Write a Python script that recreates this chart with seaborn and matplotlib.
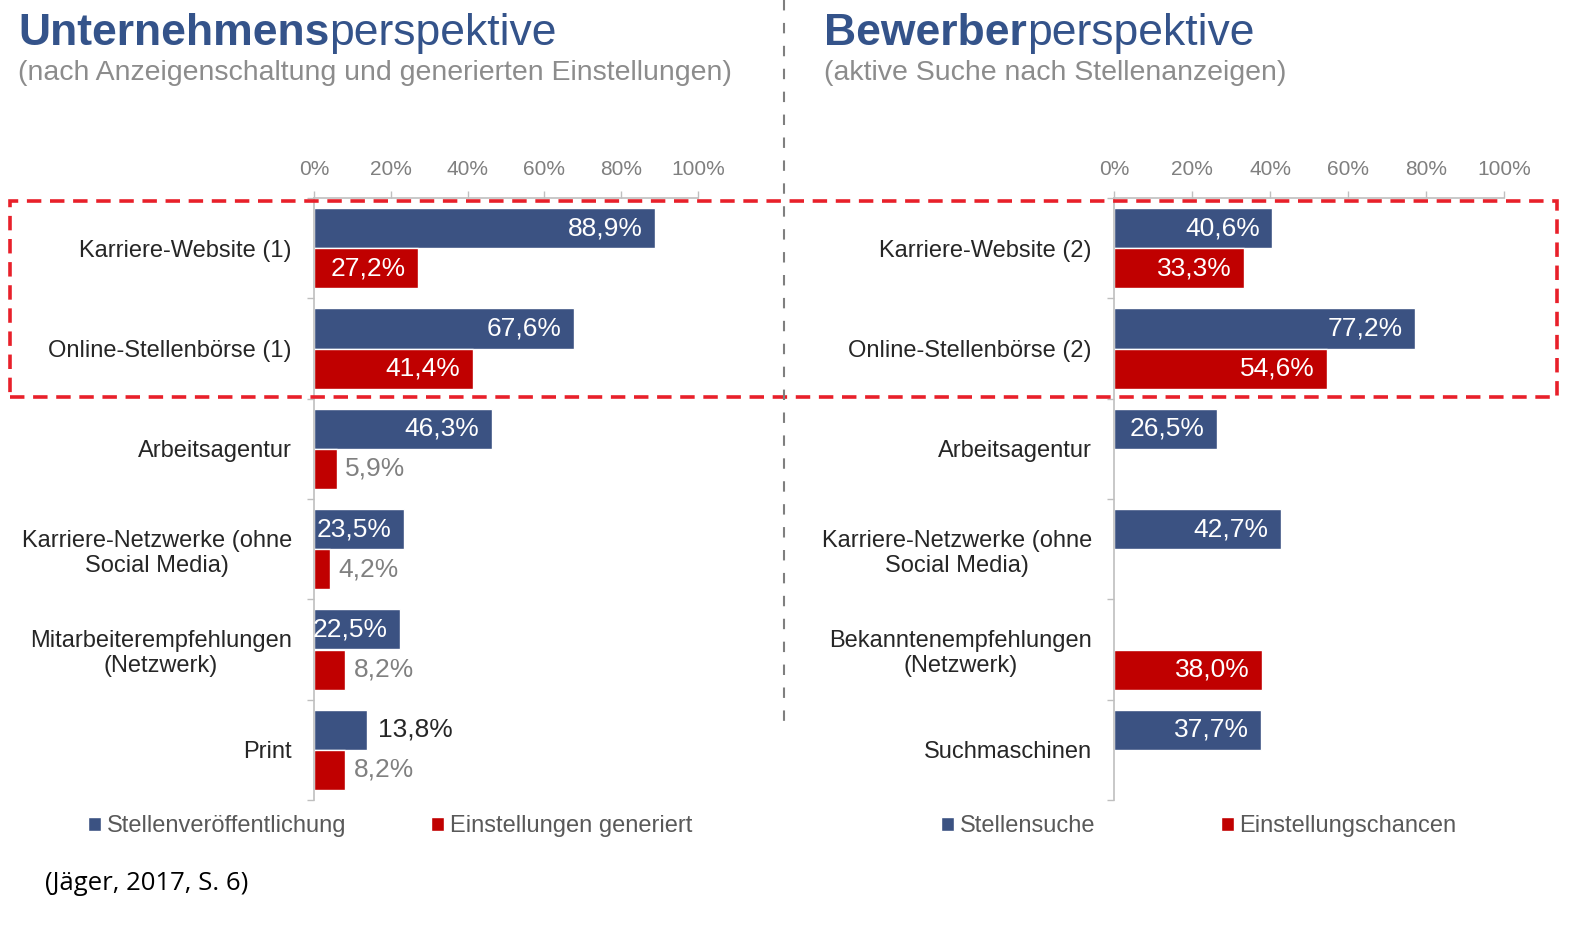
import matplotlib.pyplot as plt
import matplotlib.patches as mpatches
from matplotlib.lines import Line2D
import seaborn as sns
import pandas as pd
import numpy as np

# data
left_categories = ["Karriere-Website (1)", "Online-Stellenbörse (1)", "Arbeitsagentur",
                   "Karriere-Netzwerke (ohne\nSocial Media)", "Mitarbeiterempfehlungen\n(Netzwerk)", "Print"]
left_series = ["Stellenveröffentlichung", "Einstellungen generiert"]
left_published = [88.9, 67.6, 46.3, 23.5, 22.5, 13.8]
left_hires = [27.2, 41.4, 5.9, 4.2, 8.2, 8.2]

right_categories = ["Karriere-Website (2)", "Online-Stellenbörse (2)", "Arbeitsagentur",
                    "Karriere-Netzwerke (ohne\nSocial Media)", "Bekanntenempfehlungen\n(Netzwerk)", "Suchmaschinen"]
right_series = ["Stellensuche", "Einstellungschancen"]
right_search = [40.6, 77.2, 26.5, 42.7, np.nan, 37.7]
right_chances = [33.3, 54.6, np.nan, np.nan, 38.0, np.nan]

x_ticks = [0, 20, 40, 60, 80, 100]

BLUE = "#3b5282"
RED = "#c00000"
TITLE = "#34538a"
GRID = "#bfbfbf"

sns.set_theme(style="white")
plt.rcParams['font.family'] = ['Liberation Sans', 'DejaVu Sans']

W, H = 1592, 926
fig = plt.figure(figsize=(W / 100, H / 100), dpi=100)


def make_df(cats, series, a, b):
    df = pd.DataFrame({"category": cats * 2,
                       "series": [series[0]] * len(cats) + [series[1]] * len(cats),
                       "value": list(a) + list(b)})
    return df.dropna()


def panel(rect, cats, series, a, b, legend_x, colspace):
    ax = fig.add_axes(rect)
    df = make_df(cats, series, a, b)
    sns.barplot(data=df, x="value", y="category", hue="series", order=cats,
                hue_order=series, palette=[BLUE, RED], orient="h", width=0.8,
                saturation=1, ax=ax)
    ax.set_xlim(0, 100)
    ax.set_xlabel("")
    ax.set_ylabel("")
    ax.xaxis.tick_top()
    ax.set_xticks(x_ticks)
    ax.set_xticklabels([f"{t}%" for t in x_ticks])
    ax.tick_params(axis="x", top=True, bottom=False, length=5, width=1, color=GRID,
                   labelcolor="#7f7f7f", labelsize=15, pad=9)
    ax.tick_params(axis="y", which="major", length=0, pad=16, labelsize=17, labelcolor="#262626")
    ax.set_yticks(np.arange(-0.5, len(cats), 1), minor=True)
    ax.tick_params(axis="y", which="minor", left=True, length=5, width=1, color=GRID)
    for lbl in ax.get_yticklabels():
        lbl.set_multialignment("center")
    for s in ["right", "bottom"]:
        ax.spines[s].set_visible(False)
    for s in ["top", "left"]:
        ax.spines[s].set_visible(True)
        ax.spines[s].set_color(GRID)
        ax.spines[s].set_linewidth(1.2)

    # value labels
    for ci, cont in enumerate(ax.containers):
        for bar in cont:
            v = bar.get_width()
            if not np.isfinite(v) or v == 0:
                continue
            y = bar.get_y() + bar.get_height() / 2
            txt = f"{v:.1f}".replace(".", ",") + "%"
            if v >= 20:
                ax.annotate(txt, xy=(v, y), xytext=(-9, 0), textcoords="offset points",
                            ha="right", va="center", color="white", fontsize=19)
            else:
                col = "#262626" if ci == 0 else "#808080"
                ax.annotate(txt, xy=(v, y), xytext=(8 if ci == 0 else 6, 0),
                            textcoords="offset points", ha="left", va="center",
                            color=col, fontsize=19)

    sns.move_legend(ax, "center left", bbox_to_anchor=(legend_x, 1 - 826 / H),
                    bbox_transform=fig.transFigure, ncol=2, frameon=False, title=None,
                    fontsize=17, columnspacing=colspace, handlelength=0.55,
                    handleheight=0.55, handletextpad=0.25, borderpad=0, borderaxespad=0)
    for t in ax.get_legend().get_texts():
        t.set_color("#595959")
    return ax


ax1 = panel([314 / W, 1 - 800 / H, 384 / W, 602 / H], left_categories, left_series,
            left_published, left_hires, 88 / W, 3.6)
ax2 = panel([1114 / W, 1 - 800 / H, 390 / W, 602 / H], right_categories, right_series,
            right_search, right_chances, 941 / W, 5.3)

# titles
for x, bold, sub in [(18, "Unternehmens", "(nach Anzeigenschaltung und generierten Einstellungen)"),
                     (824, "Bewerber", "(aktive Suche nach Stellenanzeigen)")]:
    t = fig.text(x / W, 1 - 45 / H, bold, fontsize=32, fontweight="bold", color=TITLE, va="baseline")
    ax1.annotate("perspektive", xy=(1, 0), xycoords=t, ha="left", va="bottom",
                 fontsize=32, color=TITLE, annotation_clip=False)
    fig.text(x / W, 1 - 80 / H, sub, fontsize=20.5, color="#8c8c8c", va="baseline")

# separator and highlight box
fig.add_artist(Line2D([784 / W, 784 / W], [1, 1 - 730 / H], transform=fig.transFigure,
                      color="#7f7f7f", lw=1.5, linestyle=(0, (5, 6))))
fig.add_artist(mpatches.Rectangle((10 / W, 1 - 397 / H), (1557 - 10) / W, (397 - 201) / H,
                                  transform=fig.transFigure, fill=False, edgecolor="#e8202a",
                                  lw=2.6, linestyle=(0, (4, 2.4))))

fig.text(45 / W, 1 - 883 / H, "(Jäger, 2017, S. 6)", fontsize=18.5, va="center",
         color="black", family=["Open Sans", "DejaVu Sans"])

fig.savefig("out.png", dpi=100)
